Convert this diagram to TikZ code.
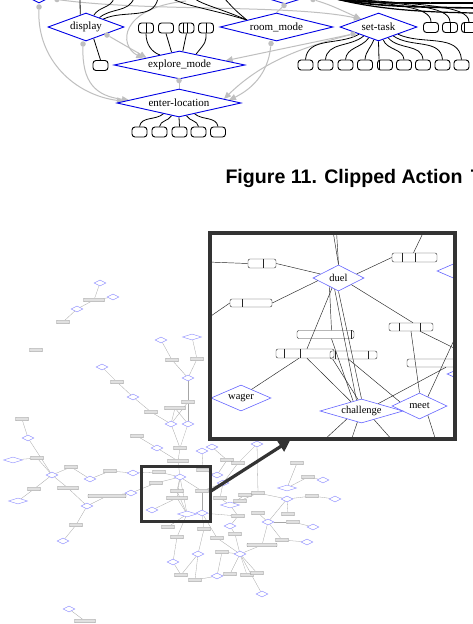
\documentclass[tikz,border=0pt]{standalone}
\usepackage{fontspec}
\setmainfont{Liberation Serif}
\newfontfamily\capfont{Liberation Sans}
\usetikzlibrary{shapes.geometric,arrows.meta,calc}
\pgfdeclarelayer{bg}
\pgfdeclarelayer{paper}
\pgfsetlayers{paper,bg,main}
\begin{document}
\begin{tikzpicture}[x=1pt,y=-1pt,
 act/.style={diamond,draw=blue!90!black,line width=0.9pt,aspect=4,inner sep=0pt,fill=white,font=\fontsize{11}{12}\selectfont},
 obj/.style={draw=black,line width=0.9pt,rounded corners=3pt,minimum width=15pt,minimum height=10pt,inner sep=0pt,fill=white},
 link/.style={draw=black,line width=0.8pt},
 garr/.style={draw=black!25,line width=1pt,-{Triangle[length=7pt,width=6pt]}},
 gline/.style={draw=black!25,line width=1pt},
 gdot/.style={circle,fill=black!25,inner sep=0pt,minimum size=5.5pt},
 heavy/.style={draw=black,line width=1.6pt},
 iact/.style={diamond,draw=blue!60,line width=0.6pt,aspect=3.5,inner sep=0pt,font=\fontsize{10.5}{12}\selectfont},
 iobj/.style={draw=black!80,line width=0.45pt,rounded corners=2pt,inner sep=0pt},
 ilink/.style={draw=black!85,line width=0.45pt},
 td/.style={diamond,draw=blue!45,line width=0.4pt,aspect=2,inner sep=0pt,minimum width=12pt,minimum height=6pt,fill=white},
 tdw/.style={td,minimum width=19pt},
 tb/.style={draw=black!45,fill=black!12,line width=0.3pt,rounded corners=0.6pt,inner sep=0pt,minimum width=13pt,minimum height=3.5pt},
 tbw/.style={tb,minimum width=21pt},
 te/.style={draw=black!35,line width=0.3pt},
 insetframe/.style={draw=black!80,line width=3.2pt,inner sep=0pt},
 bigarr/.style={draw=black!80,line width=3.2pt,-{Triangle[length=11pt,width=12pt]}}
]
\useasboundingbox (0,0) rectangle (472,624);
\begin{pgfonlayer}{paper}
\fill[white] (0,0) rectangle (472,624);
\end{pgfonlayer}

%================ TOP PART =================
\node[act,minimum width=56pt,minimum height=28pt] (tl) at (39,-11) {};
\node[act,minimum width=90pt,minimum height=28pt] (tm) at (285,-10) {};
\node[act,minimum width=76pt,minimum height=28pt] (display) at (86,27) {display};
\node[act,minimum width=113pt,minimum height=28pt] (room) at (276.5,27) {room\_mode};
\node[act,minimum width=77pt,minimum height=28pt] (settask) at (378.5,27) {set-task};
\node[act,minimum width=131pt,minimum height=28pt] (explore) at (179.5,65) {explore\_mode};
\node[act,minimum width=124pt,minimum height=28pt] (enter) at (179,103) {enter-location};

\foreach \n/\x/\y in {o1/146/28,o2/166/28,o3/186.5/28,o4/206/28,o5/100.5/65.5,
  r1/431/27.5,r2/450/27.5,r3/469/27.5,
  s1/305.5/65,s2/325.5/65,s3/345.5/65,s4/365/65,s5/385/65,s6/404/65,s7/423/65,s8/442.5/65,s9/461.5/65,
  e1/139.5/132,e2/159.5/132,e3/179.5/132,e4/198.5/132,e5/218/132}
  \node[obj] (\n) at (\x,\y) {};
% dividers
\foreach \n/\d in {o1/0,o3/-3,o3/1,o4/0,r2/0,r3/-4.5,s5/-6}
  \draw[line width=0.9pt] ($(\n.north)+(\d,0)$) -- ($(\n.south)+(\d,0)$);

% gray dots
\node[gdot] (gd1) at (39,7) {};
\node[gdot] (gd2) at (83,44) {};
\node[gdot] (gd3) at (107,35) {};
\node[gdot] (gd5) at (271,43.5) {};
\node[gdot] (gd6) at (353,34) {};
\node[gdot] (gd8) at (179,80.5) {};
\node[gdot] (gd9) at (57,-0.5) {};
\node[gdot] (gd10) at (313,-0.5) {};
\node[gdot] (gd11) at (284,5.5) {};
\coordinate (gc4) at (186,1);

\coordinate (dc1) at (80,-2);
\coordinate (dc2) at (114,-2);
\coordinate (dc3) at (134,-2);
\coordinate (dc4) at (158,-2);
\coordinate (rc1) at (171,-2);
\coordinate (rc2) at (194,-2);
\coordinate (rc3) at (224,-2);
\coordinate (tb0) at (328,-3);
\coordinate (rt1) at (475,3);
\coordinate (rt2) at (475,8);
\coordinate (rt3) at (475,13);

\begin{pgfonlayer}{bg}
 % gray arrows
 \draw[garr] (gd1) .. controls (37,60) and (75,95) .. ($(enter.west)!0.12!(enter.north)$);
 \draw[garr] (gd2) .. controls (82,82) and (95,96) .. ($(enter.west)!0.2!(enter.north)$);
 \draw[garr] (gd3) -- ($(explore.west)!0.5!(explore.north)$);
 \draw[garr] (gc4) .. controls (120,8) and (118,45) .. ($(explore.west)!0.45!(explore.north)$);
 \draw[garr] (gd5) .. controls (268,75) and (250,90) .. ($(enter.east)!0.2!(enter.north)$);
 \draw[garr] (gd6) -- ($(explore.east)!0.3!(explore.north)$);
 \draw[garr] (gd6) .. controls (300,48) and (262,62) .. ($(enter.east)!0.28!(enter.north)$);
 \draw[gline] (gd8) -- (enter.north);
 \draw[garr] (gd9) .. controls (150,12) and (290,4) .. ($(settask.west)!0.55!(settask.north)$);
 \draw[garr] (gd10) .. controls (330,5) .. ($(settask.west)!0.55!(settask.north)$);
 \draw[gline] (gd11) -- (room.north);
 % display links
 \draw[link] ($(display.north)!0.15!(display.west)$) -- (dc1);
 \draw[link] ($(display.north)!0.2!(display.east)$) to[out=60,in=-105] (dc2);
 \draw[link] ($(display.north)!0.35!(display.east)$) to[out=40,in=-110] (dc3);
 \draw[link] ($(display.north)!0.45!(display.east)$) to[out=25,in=-100] (dc4);
 \draw[link] ($(display.south)!0.2!(display.east)$) -- (o5.north);
 \draw[link] (o1.south) .. controls (146,45) and (152,52) .. ($(explore.west)!0.7!(explore.north)$);
 \draw[link] (o2.south) -- ($(explore.west)!0.88!(explore.north)$);
 \draw[link] (o3.south) -- ($(explore.north)!0.05!(explore.east)$);
 \draw[link] (o4.south) .. controls (206,42) .. ($(explore.north)!0.25!(explore.east)$);
 % room links
 \draw[link] ($(room.west)!0.48!(room.north)$) .. controls (215,10) and (185,6) .. (rc1);
 \draw[link] ($(room.west)!0.48!(room.north)$) .. controls (222,9) and (200,4) .. (rc2);
 \draw[link] ($(room.west)!0.48!(room.north)$) .. controls (235,10) .. (rc3);
 % set-task links
 \draw[heavy] (tb0) .. controls (360,4) and (400,3) .. (rt1);
 \draw[heavy] (tb0) .. controls (365,6) and (405,7) .. (rt2);
 \draw[heavy,line width=1.2pt] (tb0) .. controls (370,8) and (410,12) .. (rt3);
 \draw[link] (tb0) .. controls (395,5) and (431,6) .. (r1.north);
 \draw[link] (tb0) .. controls (405,5) and (450,5) .. (r2.north);
 \draw[link] (tb0) .. controls (415,5) and (469,4) .. (r3.north);
 \draw[link] ($(settask.west)!0.5!(settask.south)$) to[out=-150,in=85] (s1.north);
 \draw[link] ($(settask.west)!0.62!(settask.south)$) to[out=-140,in=85] (s2.north);
 \draw[link] ($(settask.west)!0.75!(settask.south)$) to[out=-125,in=85] (s3.north);
 \draw[link] ($(settask.west)!0.88!(settask.south)$) to[out=-110,in=85] (s4.north);
 \draw[link] (settask.south) -- ($(s5.north)+(-6,0)$);
 \draw[link] ($(settask.south)!0.12!(settask.east)$) to[out=-70,in=95] (s6.north);
 \draw[link] ($(settask.south)!0.25!(settask.east)$) to[out=-50,in=95] (s7.north);
 \draw[link] ($(settask.south)!0.38!(settask.east)$) to[out=-35,in=95] (s8.north);
 \draw[link] ($(settask.south)!0.5!(settask.east)$) to[out=-25,in=95] (s9.north);
 % enter-location links
 \draw[link] ($(enter.south)!0.25!(enter.west)$) to[out=-140,in=80] (e1.north);
 \draw[link] ($(enter.south)!0.12!(enter.west)$) to[out=-120,in=80] (e2.north);
 \draw[link] (enter.south) -- (e3.north);
 \draw[link] ($(enter.south)!0.12!(enter.east)$) to[out=-60,in=100] (e4.north);
 \draw[link] ($(enter.south)!0.25!(enter.east)$) to[out=-40,in=100] (e5.north);
\end{pgfonlayer}

% caption
\node[anchor=base west,inner sep=0pt,font=\capfont\bfseries\fontsize{19.6}{22}\selectfont] (cap) at (225.3,183) {Figure 11. Clipped Action \kern3pt T};

%================ INSET =================
\begin{scope}
\clip (210,233) rectangle (455,439);
\node[iact,minimum width=51pt,minimum height=26pt] (duel) at (338.5,278) {duel};
\node[iact,minimum width=60pt,minimum height=26pt] (wager) at (241,398) {wager};
\node[iact,minimum width=83pt,minimum height=24pt] (challenge) at (361.5,411) {challenge};
\node[iact,minimum width=55pt,minimum height=26pt] (meet) at (419.5,406) {meet};
\node[iact,minimum width=60pt,minimum height=26pt] (rp1) at (467,271) {};
\node[iact,minimum width=46pt,minimum height=20pt] (rp2) at (470,374) {};

\node[iobj,minimum width=28pt,minimum height=9pt] (iA) at (262,263.5) {};
\node[iobj,minimum width=42pt,minimum height=8pt] (iB) at (251,303) {};
\node[iobj,minimum width=45pt,minimum height=9pt] (iC) at (414.5,257.5) {};
\node[iobj,minimum width=57pt,minimum height=8pt] (iD) at (325.5,334.5) {};
\node[iobj,minimum width=58pt,minimum height=9pt] (iE) at (305,353.5) {};
\node[iobj,minimum width=47pt,minimum height=8pt] (iF) at (353.5,355) {};
\node[iobj,minimum width=44pt,minimum height=8pt] (iG) at (411,327) {};
\node[iobj,minimum width=56pt,minimum height=8pt] (iH) at (435,363) {};
\foreach \n/\d in {iA/15,iB/12,iC/10,iC/23,iD/54,iE/8,iE/24,iF/5,iF/38,iG/10,iG/31}
  \draw[ilink] ($(\n.north west)+(\d,0)$) -- ($(\n.south west)+(\d,0)$);

\coordinate (it1) at (333,231);
\coordinate (it2) at (336.5,231);
\coordinate (it3) at (424,231);
\coordinate (il1) at (208,262);
\coordinate (il2) at (208,318);
\coordinate (ir1) at (457,349.5);
\coordinate (ir2) at (455,338);
\coordinate (ib1) at (323,441);
\coordinate (ib2) at (351,441);
\coordinate (ib3) at (393,441);
\coordinate (ib4) at (436,441);

\draw[ilink] (it1) -- (duel.north);
\draw[ilink] (it2) -- (duel.north);
\draw[ilink] (it3) -- ($(iC.north)+(-1,0)$);
\draw[ilink] (il1) -- (iA.west);
\draw[ilink] (iA.east) -- ($(duel.west)!0.3!(duel.north)$);
\draw[ilink] (il2) -- (iB.west);
\draw[ilink] (iB.east) -- ($(duel.west)!0.2!(duel.south)$);
\draw[ilink] ($(duel.north)!0.7!(duel.east)$) -- (iC.west);
\draw[ilink] ($(duel.south)!0.5!(duel.east)$) -- ($(iG.north)+(2,0)$);
\draw[ilink] ($(iG.south)+(9,0)$) -- (ir1);
\draw[ilink] (iG.south) -- (meet.north);
\draw[ilink] (duel.south) -- (challenge.north);
\draw[ilink] ($(duel.south)!0.15!(duel.west)$) -- ($(challenge.north)!0.12!(challenge.west)$);
\draw[ilink] ($(duel.south)!0.25!(duel.west)$) -- ($(iE.north)+(2,0)$);
\draw[ilink] ($(duel.south)!0.35!(duel.west)$) -- ($(iD.north)+(6,0)$);
\draw[ilink] ($(iD.south)+(6,0)$) -- ($(challenge.north)!0.2!(challenge.west)$);
\draw[ilink] ($(iE.south)+(-6,0)$) -- ($(wager.north)!0.35!(wager.east)$);
\draw[ilink] ($(iE.south)+(2,0)$) -- ($(challenge.north)!0.25!(challenge.west)$);
\draw[ilink] ($(iF.south)+(-5,0)$) -- ($(meet.west)!0.3!(meet.north)$);
\draw[ilink] ($(iF.south west)+(3,0)$) -- ($(challenge.north)!0.08!(challenge.west)$);
\draw[ilink] ($(challenge.north)!0.4!(challenge.east)$) -- ($(iH.south)+(11,0)$);
\draw[ilink] ($(meet.north)!0.3!(meet.east)$) -- (ir2);
\draw[ilink] ($(challenge.south)!0.35!(challenge.west)$) -- (ib1);
\draw[ilink] ($(challenge.south)!0.1!(challenge.west)$) -- (ib2);
\draw[ilink] ($(challenge.south)!0.3!(challenge.east)$) -- (ib3);
\draw[ilink] ($(meet.south)!0.3!(meet.east)$) -- (ib4);
\end{scope}
\node[insetframe,minimum width=245pt,minimum height=206pt] (inset) at (332.5,336) {};

%================ SMALL GRAPH =================
\foreach \n/\s/\x/\y in {a1/td/100/283,a2/td/113/297,a3/tbw/94/300,a4/td/77/309,a5/tb/63/322,a6/tb/36/350,
 b1/td/161/340,b2/tdw/192/337,b3/tb/172/360,b4/tb/197/359,b5/td/188/378,b6/tb/188/402,b7/tbw/175/408,b8/td/171/424,b9/td/188/424,
 c1/td/102/367,c2/tb/117/382,c3/td/133/397,c4/tb/151/412,c5/tb/22/419,c6/td/28/438,c7/tb/37/458,c8/tdw/13/460,c9/td/52/475,
 c10/tb/71/467,c11/td/90/479,c12/tbw/68/488,c13/tb/34/489,c14/tdw/18/501,c15/td/87/506,c16/tb/76/525,c17/td/63/541,
 c18/tb/110/471,c19/td/133/473,c21/td/131/493,c22/td/69/609,c23/tbw/85/621,
 d1/tb/137/436,d2/td/157/448,d3/tb/180/448,d4/tbw/178/461,d5/td/202/451,d6/td/212/447,d7/tb/227/460,d8/tb/238/463,d9/td/257/444,
 d10/td/217/475,d11/td/223/483,d12/tb/220/498,d13/tb/240/501,d14/tb/245/495,d15/tdw/230/505,d16/tb/258/493,
 e1/tdw/287/488,e2/td/287/499,e3/tb/297/463,e4/tb/308/477,e5/td/323/480,e6/tb/312/496,e7/td/335/499,
 f1/tb/238/516,f2/tb/258/513,f3/td/230/526,f4/td/268/522,f5/tb/288/514,f6/tb/293/522,f7/td/313/527,f8/td/307/542,f9/tb/282/540,
 g1/tb/168/527,g2/tb/204/529,g3/tb/177/537,g4/tb/217/538,g5/tb/235/534,g8/td/198/554,g9/td/240/554,g10/tb/222/552,
 g11/td/173/562,g12/tb/181/575,g13/td/217/576,g14/tb/195/580,g15/tb/230/574,g16/tb/247/575,g17/tb/257/573,g18/td/262/594,
 h0/td/180/477,h1/tb/159/472,h2/tb/156/483,h3/tb/177/491,h4/tbw/177/498,h5/tb/203/470,h6/tb/202/491,hW/td/152/510,hC/tdw/187/514,hM/td/202/513}
  \node[\s] (\n) at (\x,\y) {};
\node[tbw,minimum width=38pt] (c20) at (107,496) {};
\node[tbw,minimum width=30pt] (g6) at (262,545) {};

\begin{pgfonlayer}{bg}
\foreach \u/\v in {a1/a3,a2/a3,a3/a4,a4/a5,b1/b3,b3/b5,b2/b4,b4/b5,b5/b6,b6/b8,b6/b9,b7/b8,b7/b9,
 c1/c2,c2/c3,c3/c4,c4/b8,c5/c6,c6/c9,c8/c7,c7/c9,c9/c10,c10/c11,c9/c12,c12/c15,c9/c13,c13/c14,c15/c16,c16/c17,
 c11/c18,c18/c19,c15/c20,c20/c21,c22/c23,
 d1/d2,b8/d3,b9/d3,d3/d4,d4/h0,d2/d4,d5/h5,d6/d7,d7/d10,d9/d8,d8/d11,h5/d10,h6/d11,d11/d12,d12/d15,d13/d15,d14/d15,
 d16/e2,d15/d16,d9/d16,e1/e3,e1/e4,e4/e5,e2/e6,e6/e7,e2/f4,f2/f4,f4/f6,f6/f7,f4/f9,f9/f8,f5/e2,d15/f1,f1/f3,hM/f1,
 f3/g5,g5/g9,f4/g6,g6/g9,c19/h1,c21/h2,h1/h0,h2/h0,h0/h3,h0/h4,h4/hW,h4/hC,h0/hC,h3/hC,h0/h6,h6/hM,
 hC/g1,hC/g3,g3/g11,g11/g12,g12/g8,hM/g2,g2/g8,hM/g4,g4/g9,g8/g14,g14/g13,g13/g15,g9/g15,g9/g16,g9/g17,g9/g18,g10/g9,g10/g13}
  \draw[te] (\u) -- (\v);
\end{pgfonlayer}

\node[insetframe,line width=3pt,minimum width=69pt,minimum height=55pt] (hl) at (175.5,493.5) {};
\coordinate (arrS) at (211,491);
\coordinate (arrE) at (290,440.5);
\draw[bigarr] (arrS) -- (arrE);
\end{tikzpicture}
\end{document}
